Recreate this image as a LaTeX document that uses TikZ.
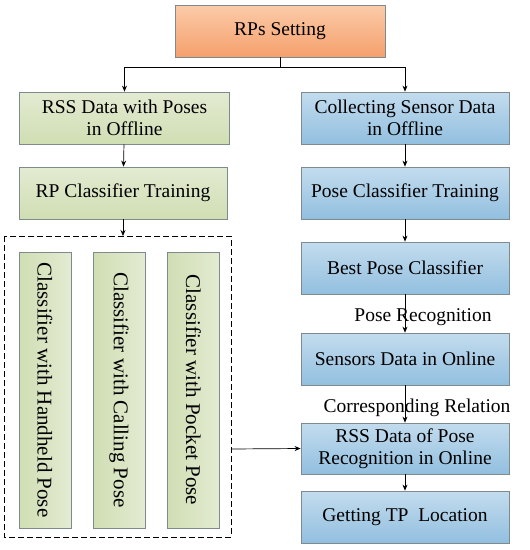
\documentclass[tikz,border=0pt]{standalone}
\usepackage{fontspec}
\setmainfont{Liberation Serif}
\usetikzlibrary{arrows.meta,positioning}

\definecolor{orangetop}{HTML}{FBCBA9}
\definecolor{orangebot}{HTML}{F5A06C}
\definecolor{greentop}{HTML}{E3EBD2}
\definecolor{greenbot}{HTML}{D0DEB3}
\definecolor{bluetop}{HTML}{C3DCEE}
\definecolor{bluebot}{HTML}{92BFDF}
\definecolor{edgegray}{HTML}{7F8A8F}

\tikzset{
  flowbox/.style={draw=edgegray,line width=0.8pt,align=center,inner sep=2pt,
    font=\fontsize{19.5}{22.5}\selectfont,minimum height=52pt},
  startbox/.style={flowbox,top color=orangetop,bottom color=orangebot,minimum width=210pt},
  greenbox/.style={flowbox,top color=greentop,bottom color=greenbot,minimum width=210pt},
  bluebox/.style={flowbox,top color=bluetop,bottom color=bluebot,minimum width=208pt},
  posebox/.style={flowbox,left color=greenbot,right color=greentop,
    font=\fontsize{21}{24}\selectfont,minimum width=276pt,rotate=-90},
  link/.style={-{Stealth[length=6pt,width=5pt]},line width=0.7pt},
  linklabel/.style={font=\fontsize{19.5}{22.5}\selectfont,inner sep=0pt}
}

\begin{document}
\begin{tikzpicture}[x=1pt,y=-1pt]
	\useasboundingbox (0,0) rectangle (530,550);
	% top
	\node[startbox] (rps) at (280,31) {RPs Setting};
	% left branch
	\node[greenbox] (rssoff) at (124.5,118) {RSS Data with Poses\\in Offline};
	\node[greenbox,minimum width=208pt] (rptrain) at (123,193) {RP Classifier Training};
	\draw[dash pattern=on 6pt off 3pt,line width=0.7pt] (4,236) rectangle (231,537);
	\coordinate (dashtop) at (123,236);
	\coordinate (dashright) at (231,449);
	\node[posebox] (handheld) at (45,390) {Classifier with Handheld Pose};
	\node[posebox] (calling) at (119,390) {Classifier with Calling Pose};
	\node[posebox] (pocket) at (193.5,390) {Classifier with Pocket Pose};
	% right branch
	\node[bluebox] (colloff) at (405,118) {Collecting Sensor Data\\in Offline};
	\node[bluebox] (posetrain) at (405,193) {Pose Classifier Training};
	\node[bluebox] (best) at (405,268) {Best Pose Classifier};
	\node[bluebox] (sensors) at (405,359) {Sensors Data in Online};
	\node[bluebox,minimum height=51pt] (rssonline) at (405,448.5) {RSS Data of Pose\\Recognition in Online};
	\node[bluebox] (getting) at (405,517) {Getting TP\ \ Location};
	% connectors
	\coordinate (split) at (280,67);
	\draw[line width=0.7pt] (rps.south) -- (split);
	\draw[link] (split) -| (rssoff.north);
	\draw[link] (split) -| (colloff.north);
	\draw[link] (rssoff) -- (rptrain);
	\draw[link] (rptrain) -- (dashtop);
	\draw[link] (colloff) -- (posetrain);
	\draw[link] (posetrain) -- (best);
	\draw[link] (best) -- (sensors);
	\draw[link] (sensors) -- (rssonline);
	\draw[link] (rssonline) -- (getting);
	\draw[link] (dashright) -- (rssonline.west);
	\node[linklabel] (poserec) at (423,317) {Pose Recognition};
	\node[linklabel] (corrrel) at (417,408) {Corresponding Relation};
\end{tikzpicture}
\end{document}
